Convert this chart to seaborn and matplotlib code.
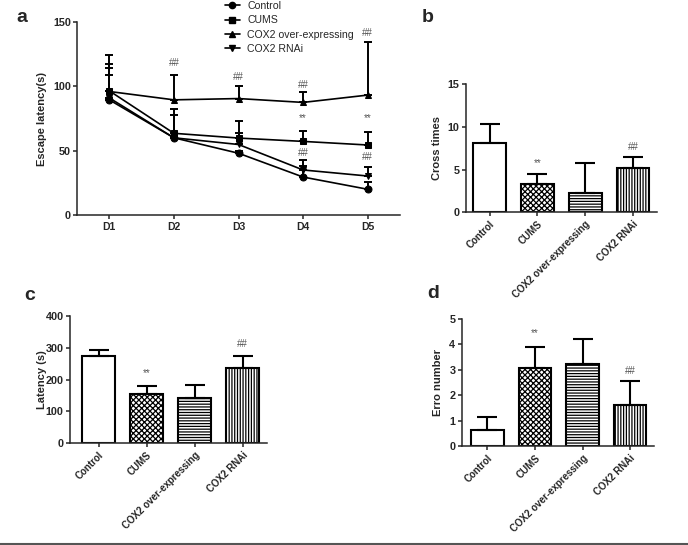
import numpy as np
import pandas as pd
import matplotlib
matplotlib.use('Agg')
import matplotlib.pyplot as plt
import seaborn as sns
from matplotlib.lines import Line2D

# ---------------- data ----------------
days = ['D1', 'D2', 'D3', 'D4', 'D5']
groups = ['Control', 'CUMS', 'COX2 over-expressing', 'COX2 RNAi']

ctrl_mean = [89.5, 60.0, 48.0, 29.5, 20.0]
ctrl_err = [19.0, 1.5, 1.5, 8.8, 5.6]
cums_mean = [96.5, 63.5, 59.8, 57.2, 54.4]
cums_err = [20.5, 19.0, 13.0, 8.3, 9.8]
oe_mean = [96.0, 89.5, 90.5, 87.5, 93.2]
oe_err = [28.0, 19.5, 9.5, 8.3, 41.0]
rnai_mean = [91.0, 60.0, 54.8, 35.0, 30.3]
rnai_err = [23.5, 17.5, 9.0, 7.7, 7.2]

cross_mean = [8.1, 3.3, 2.3, 5.2]
cross_err = [2.25, 1.2, 3.5, 1.3]
lat_mean = [275, 153, 143, 235]
lat_err = [18, 27, 40, 40]
erro_mean = [0.62, 3.07, 3.22, 1.6]
erro_err = [0.51, 0.81, 0.98, 0.97]

# annotation labels
a_hash_top = [None, 118, 107, 101, 141.5]
a_star = [None, None, None, 75.5, 75.5]
a_hash_low = [None, None, None, 48.5, 45]

# ---------------- style ----------------
sns.set_style('ticks')
plt.rcParams['font.family'] = ['Liberation Sans', 'DejaVu Sans']
plt.rcParams['hatch.linewidth'] = 0.9
plt.rcParams['axes.linewidth'] = 1.1
plt.rcParams['xtick.major.width'] = 1.1
plt.rcParams['ytick.major.width'] = 1.1
plt.rcParams['xtick.major.size'] = 3
plt.rcParams['ytick.major.size'] = 3
plt.rcParams['xtick.major.pad'] = 2
plt.rcParams['ytick.major.pad'] = 1.5

W, H = 688, 545
fig = plt.figure(figsize=(W / 100, H / 100), dpi=100)


def axes_px(left, right, top, bottom):
    return fig.add_axes([left / W, 1 - bottom / H, (right - left) / W, (bottom - top) / H])


TICKFS = 7
YTICKFS = 7.8
LABFS = 8
ANNFS = 7
ANNC = '#555555'

# ---------------- panel a ----------------
ax = axes_px(77, 400, 22, 215)
means = [ctrl_mean, cums_mean, oe_mean, rnai_mean]
errs = [ctrl_err, cums_err, oe_err, rnai_err]
markers = ['o', 's', '^', 'v']
rows = []
for g, m in zip(groups, means):
    for i, v in enumerate(m):
        rows.append({'group': g, 'pos': i, 'val': v})
df = pd.DataFrame(rows)
sns.lineplot(data=df, x='pos', y='val', style='group', style_order=groups,
             markers=markers, dashes=False, color='black', linewidth=1.2,
             markersize=5, markeredgecolor='black', ax=ax, legend=False)
x = np.arange(len(days))
for m, e in zip(means, errs):
    ax.errorbar(x, m, yerr=[np.zeros(len(m)), e], fmt='none', ecolor='black',
                elinewidth=1.4, capsize=3, capthick=1.4)
ax.set_xlim(-0.5, 4.5)
ax.set_ylim(0, 150)
ax.set_xticks(x)
ax.set_xticklabels(days, fontsize=TICKFS + 0.5, fontweight='bold')
ax.set_yticks([0, 50, 100, 150])
ax.set_yticklabels(['0', '50', '100', '150'], fontsize=YTICKFS, fontweight='bold')
ax.set_xlabel('')
ax.set_ylabel('Escape latency(s)', fontsize=LABFS, fontweight='bold')
ax.yaxis.set_label_coords(-0.093, 0.5)
sns.despine(ax=ax)
for i in range(5):
    for arr, t in [(a_hash_top, '##'), (a_star, '**'), (a_hash_low, '##')]:
        if arr[i] is not None:
            ax.text(i, arr[i], t, ha='center', va='center', fontsize=ANNFS, color=ANNC)
handles = [Line2D([0], [0], color='black', lw=1.2, marker=mk, markersize=4.5)
           for mk in markers]
ax.legend(handles, groups, loc='upper left', bbox_to_anchor=(224 / W, 1.0),
          bbox_transform=fig.transFigure, frameon=False, fontsize=7.6,
          handlelength=1.4, labelspacing=0.4, borderpad=0.1, handletextpad=0.7,
          borderaxespad=0)
fig.text(22 / W, 1 - 17 / H, 'a', fontsize=14, fontweight='bold', ha='center', va='center')

# ---------------- bar panels ----------------
hatches = ['', 'xxxxxx', '------', '||||||']


def bar_panel(ax, vals, errs_, ylim, yticks, ylabel, star, hashv, xlim, labx):
    sns.barplot(x=groups, y=vals, order=groups, color='white', edgecolor='black',
                linewidth=1.5, width=0.68, ax=ax, saturation=1)
    for p, h in zip(ax.patches, hatches):
        p.set_hatch(h)
        p.set_facecolor('white')
        p.set_edgecolor('black')
    xx = np.arange(len(groups))
    ax.errorbar(xx, vals, yerr=[np.zeros(len(vals)), errs_], fmt='none', ecolor='black',
                elinewidth=1.5, capsize=7, capthick=1.5, zorder=1)
    ax.set_xlim(*xlim)
    ax.set_ylim(*ylim)
    ax.set_yticks(yticks)
    ax.set_yticklabels([str(t) for t in yticks], fontsize=YTICKFS, fontweight='bold')
    ax.set_xticks(xx)
    ax.set_xticklabels(groups, rotation=45, ha='right', rotation_mode='anchor',
                       fontsize=TICKFS, fontweight='bold')
    ax.set_xlabel('')
    ax.set_ylabel(ylabel, fontsize=LABFS, fontweight='bold')
    ax.yaxis.set_label_coords(labx, 0.5)
    ax.text(1, star, '**', ha='center', va='center', fontsize=ANNFS, color=ANNC)
    ax.text(3, hashv, '##', ha='center', va='center', fontsize=ANNFS, color=ANNC)
    sns.despine(ax=ax)


axb = axes_px(465.7, 657, 84.3, 212.3)
bar_panel(axb, cross_mean, cross_err, (0, 15), [0, 5, 10, 15], 'Cross times', 5.8, 7.6,
          (-0.5, 3.5), -0.124)
fig.text(428 / W, 1 - 17 / H, 'b', fontsize=14, fontweight='bold', ha='center', va='center')

axc = axes_px(70, 266.7, 315.7, 443.3)
bar_panel(axc, lat_mean, lat_err, (0, 400), [0, 100, 200, 300, 400], 'Latency (s)', 219, 311,
          (-0.6, 3.5), -0.117)
fig.text(30 / W, 1 - 296 / H, 'c', fontsize=14, fontweight='bold', ha='center', va='center')

axd = axes_px(461.7, 654, 319, 446)
bar_panel(axd, erro_mean, erro_err, (0, 5), [0, 1, 2, 3, 4, 5], 'Erro number', 4.44, 2.96,
          (-0.54, 3.5), -0.097)
fig.text(433 / W, 1 - 293 / H, 'd', fontsize=14, fontweight='bold', ha='center', va='center')

# bottom rule
fig.add_artist(Line2D([0, 1], [1.5 / H, 1.5 / H], transform=fig.transFigure,
                      color='#555555', lw=1.5))

fig.savefig('out.png', dpi=100)
